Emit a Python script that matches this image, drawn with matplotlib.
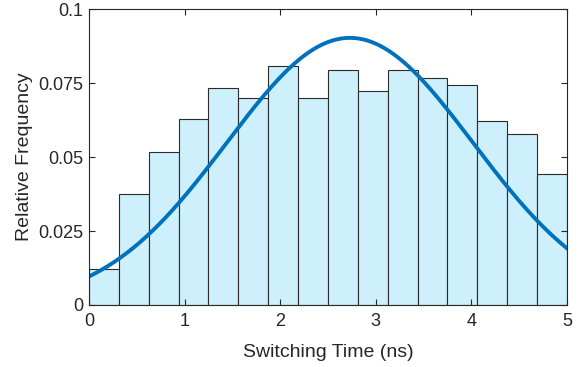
import numpy as np
import matplotlib.pyplot as plt

plt.rcParams['font.family'] = ['Liberation Sans', 'DejaVu Sans']

# Histogram bins (ns) and relative frequencies
bin_edges = np.linspace(0, 5, 17)
rel_freq = [0.0122, 0.0375, 0.0517, 0.0628, 0.0733, 0.0699, 0.0807, 0.0699,
            0.0794, 0.0723, 0.0794, 0.0767, 0.0743, 0.0622, 0.0578, 0.0443]

# Normal fit parameters
fit_mu = 2.73
fit_sigma = 1.29
fit_peak = 0.0903

fig = plt.figure(figsize=(5.85, 3.67), dpi=100)
ax = fig.add_axes([0.152, 0.169, 0.817, 0.806])

widths = np.diff(bin_edges)
ax.bar(bin_edges[:-1], rel_freq, width=widths, align='edge',
       color='#cdf0fc', edgecolor='#2b2b2b', linewidth=0.8)

x = np.linspace(0, 5, 300)
y = fit_peak * np.exp(-(x - fit_mu) ** 2 / (2 * fit_sigma ** 2))
ax.plot(x, y, color='#0072bd', linewidth=2.8)

ax.set_xlim(0, 5)
ax.set_ylim(0, 0.1)
ax.set_xticks([0, 1, 2, 3, 4, 5])
ax.set_yticks([0, 0.025, 0.05, 0.075, 0.1])
ax.set_yticklabels(['0', '0.025', '0.05', '0.075', '0.1'])
ax.tick_params(direction='in', top=True, right=True, length=4,
               labelsize=13, colors='#262626', width=0.8)
ax.tick_params(axis='x', pad=6)
ax.tick_params(axis='y', pad=4)
for s in ax.spines.values():
    s.set_color('#262626')
    s.set_linewidth(0.8)

ax.set_xlabel('Switching Time (ns)', fontsize=14, color='#262626', labelpad=10)
ax.set_ylabel('Relative Frequency', fontsize=14, color='#262626', labelpad=4)

fig.savefig('out.png', dpi=100)
